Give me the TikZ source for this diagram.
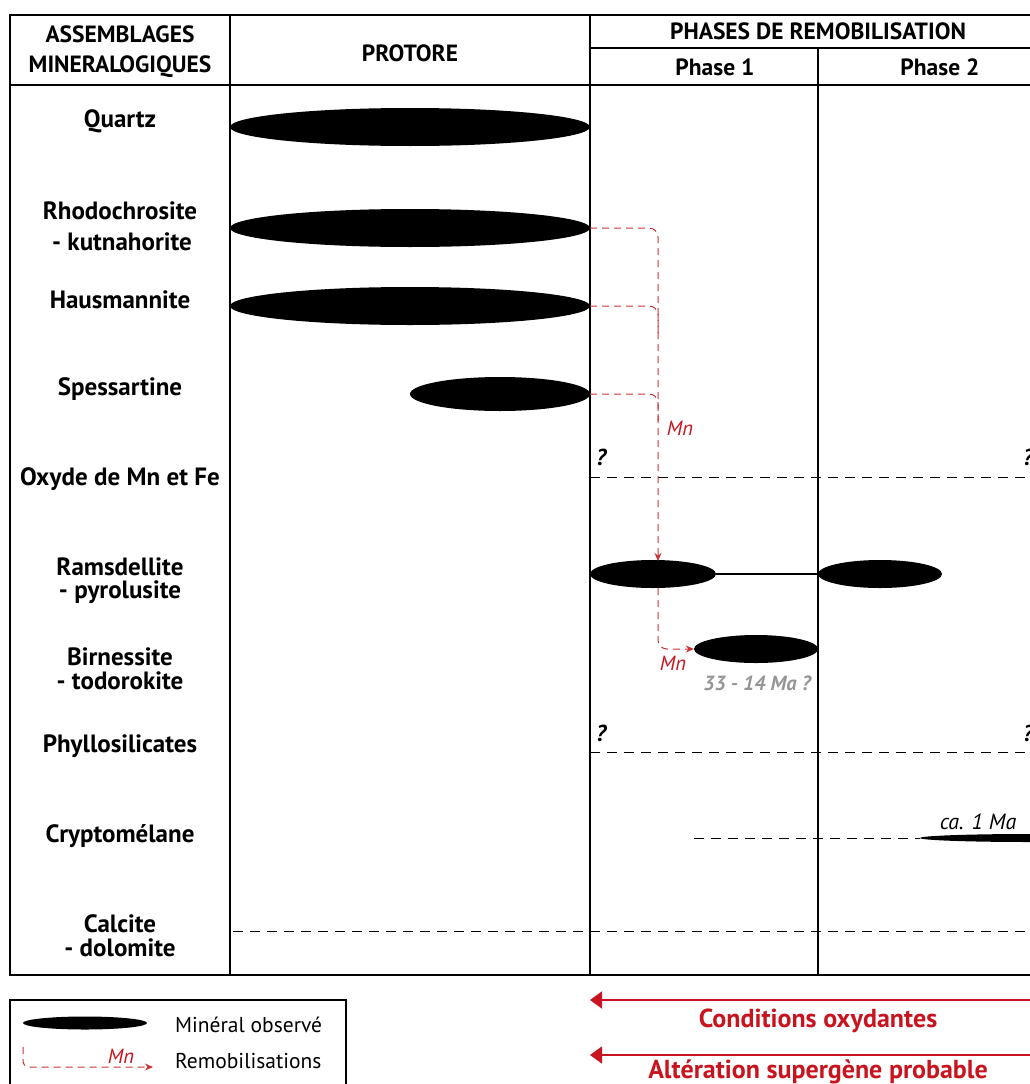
\documentclass[tikz,border=0pt]{standalone}
\usepackage{fontspec}
\setmainfont{PT Sans}
\usetikzlibrary{arrows.meta,shapes.geometric}
\definecolor{myred}{RGB}{200,20,30}
\definecolor{dashred}{RGB}{205,50,55}
\definecolor{mygray}{RGB}{150,150,150}
\begin{document}
\begin{tikzpicture}[x=1pt,y=-1pt,
 lab/.style={font=\fontsize{25}{25}\selectfont\bfseries, align=center, inner sep=0},
 hdr/.style={font=\fontsize{23.5}{30}\selectfont\bfseries, align=center, inner sep=0},
 mineral/.style={ellipse, fill=black, inner sep=0, draw=none},
 remob/.style={draw=dashred, dash pattern=on 7pt off 5pt, line width=1pt, rounded corners=9pt},
 remobtip/.style={-{Stealth[length=8pt,width=7pt]}},
 gridl/.style={line width=1.3pt},
 dline/.style={dash pattern=on 10pt off 7pt, line width=1pt},
 qmark/.style={font=\fontsize{23}{25}\selectfont\bfseries\itshape, inner sep=0},
 mnlab/.style={font=\fontsize{20.5}{22}\selectfont\itshape, text=myred, inner sep=0},
 leg/.style={font=\fontsize{21.5}{22}\selectfont, inner sep=0, anchor=west},
 redtxt/.style={font=\fontsize{26}{26}\selectfont\bfseries, text=myred, inner sep=0},
 bigarrow/.style={draw=myred, line width=1.6pt, -{Triangle[length=12pt,width=17pt]}}]
\useasboundingbox (0,0) rectangle (1030,1084);
\clip (0,0) rectangle (1030,1084);
% table grid
\draw[gridl] (1045,15) -- (10,15) -- (10,975) -- (1045,975);
\draw[gridl] (10,85) -- (1045,85);
\draw[gridl] (590,48) -- (1045,48);
\draw[gridl] (230,15) -- (230,975);
\draw[gridl] (590,15) -- (590,975);
\draw[gridl] (818,48) -- (818,975);
% headers
\node[hdr] (hA) at (120,52) {ASSEMBLAGES\\MINERALOGIQUES};
\node[hdr] (hP) at (410,53) {PROTORE};
\node[hdr] (hR) at (818,31) {PHASES DE REMOBILISATION};
\node[hdr] (h1) at (715,67) {Phase 1};
\node[hdr] (h2) at (940,67) {Phase 2};
% row labels
\node[lab] (lq) at (120,121) {Quartz};
\node[lab] (lr) at (120,211) {Rhodochrosite};
\node[lab] (lr2) at (122,242) {- kutnahorite};
\node[lab] (lh) at (120,300) {Hausmannite};
\node[lab] (ls) at (120,389) {Spessartine};
\node[lab] (lo) at (120,479) {Oxyde de Mn et Fe};
\node[lab] (lra) at (120,567) {Ramsdellite};
\node[lab] (lra2) at (120,592) {- pyrolusite};
\node[lab] (lb) at (120,657) {Birnessite};
\node[lab] (lb2) at (120,681) {- todorokite};
\node[lab] (lp) at (120,746) {Phyllosilicates};
\node[lab] (lc) at (120,836) {Cryptomélane};
\node[lab] (lca) at (120,924) {Calcite};
\node[lab] (lca2) at (120,948) {- dolomite};
% minerals
\node[mineral, minimum width=360, minimum height=38] (quartz) at (410,127) {};
\node[mineral, minimum width=360, minimum height=38] (rhodo) at (410,228) {};
\node[mineral, minimum width=360, minimum height=38] (haus) at (410,306) {};
\node[mineral, minimum width=180, minimum height=34] (spes) at (500,394) {};
\node[mineral, minimum width=126, minimum height=28] (ramsA) at (653,574) {};
\node[mineral, minimum width=124, minimum height=28] (ramsB) at (880,574) {};
\node[mineral, minimum width=124, minimum height=28] (birn) at (756,649) {};
\node[mineral, minimum width=220, minimum height=8] (crypto) at (1030,838) {};
\draw[line width=1.1pt] (ramsA.east) -- (ramsB.west);
% dashed lines
\coordinate (oxL) at (590,477); \coordinate (oxR) at (1045,477);
\draw[dline] (oxL) -- (oxR);
\coordinate (phL) at (590,752); \coordinate (phR) at (1045,752);
\draw[dline] (phL) -- (phR);
\coordinate (crL) at (694,838);
\draw[dline] (crL) -- (crypto.west);
\coordinate (caL) at (233,931); \coordinate (caR) at (1045,931);
\draw[dline] (caL) -- (caR);
\node[qmark] (q1) at (601,457) {?};
\node[qmark, anchor=west] (q2) at (1023,457) {?};
\node[qmark] (q3) at (601,733) {?};
\node[qmark, anchor=west] (q4) at (1023,733) {?};
% remobilisation arrows
\coordinate (rTop) at (658,561);
\coordinate (hEnd) at (658,335);
\coordinate (sEnd) at (658,425);
\draw[remob, remobtip] (rhodo.east) -| (rTop);
\draw[remob] (haus.east) -| (hEnd);
\draw[remob] (spes.east) -| (sEnd);
\node[mnlab] (mn1) at (680,428) {Mn};
\coordinate (rBot) at (658,588);
\draw[remob, remobtip] (rBot) |- (birn.west);
\node[mnlab] (mn2) at (673,663) {Mn};
\node[font=\fontsize{20.5}{22}\selectfont\bfseries\itshape, text=mygray, inner sep=0] (age1) at (757,683) {33 - 14 Ma ?};
\node[font=\fontsize{22}{22}\selectfont\itshape, inner sep=0] (age2) at (978,822) {ca. 1 Ma};
% legend
\draw[line width=1.2pt] (10,1100) -- (10,1000) -- (346,1000) -- (346,1100);
\node[mineral, minimum width=124, minimum height=13] (legmin) at (85,1023) {};
\node[leg] (legt1) at (175,1025) {Minéral observé};
\coordinate (lgA) at (23,1047);
\coordinate (lgB) at (153,1067);
\draw[remob, remobtip, rounded corners=6pt] (lgA) |- (lgB);
\node[mnlab] (mn3) at (121,1056) {Mn};
\node[leg] (legt2) at (175,1061) {Remobilisations};
% bottom arrows
\coordinate (a1R) at (1045,1000); \coordinate (a1L) at (590,1000);
\draw[bigarrow] (a1R) -- (a1L);
\node[redtxt] (t1) at (818,1021) {Conditions oxydantes};
\coordinate (a2R) at (1045,1055); \coordinate (a2L) at (590,1055);
\draw[bigarrow] (a2R) -- (a2L);
\node[redtxt] (t2) at (818,1072) {Altération supergène probable};
\end{tikzpicture}
\end{document}
